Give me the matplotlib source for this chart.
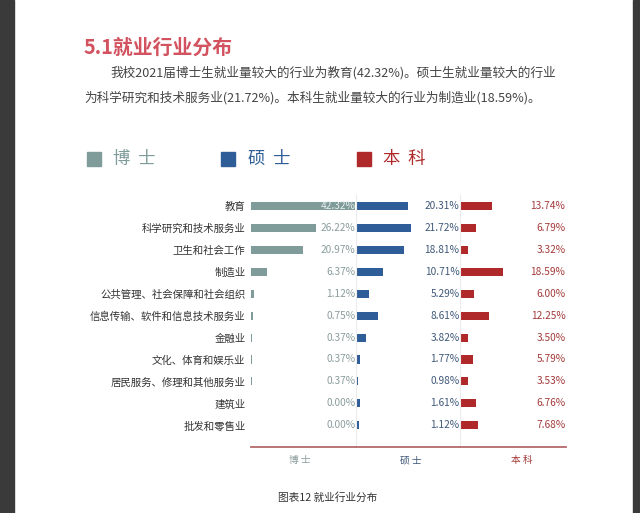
import matplotlib.pyplot as plt
from matplotlib.patches import Rectangle
import matplotlib.transforms as mtransforms

plt.rcParams['font.family'] = ['Noto Sans CJK SC', 'DejaVu Sans']

industries = ['教育', '科学研究和技术服务业', '卫生和社会工作', '制造业',
              '公共管理、社会保障和社会组织', '信息传输、软件和信息技术服务业',
              '金融业', '文化、体育和娱乐业', '居民服务、修理和其他服务业',
              '建筑业', '批发和零售业']
doctor = [42.32, 26.22, 20.97, 6.37, 1.12, 0.75, 0.37, 0.37, 0.37, 0.00, 0.00]
master = [20.31, 21.72, 18.81, 10.71, 5.29, 8.61, 3.82, 1.77, 0.98, 1.61, 1.12]
bachelor = [13.74, 6.79, 3.32, 18.59, 6.00, 12.25, 3.50, 5.79, 3.53, 6.76, 7.68]
groups = ['博士', '硕士', '本科']

W, H = 640, 513
fig = plt.figure(figsize=(6.4, 5.13), dpi=100)

def fx(px):
    return px / W

def fy(py):
    return 1 - py / H

# dark page borders from the screenshot
fig.patches.append(Rectangle((0, 0), fx(14), 1, transform=fig.transFigure,
                             color='#3a3a3a', zorder=0))
fig.patches.append(Rectangle((fx(633), 0), fx(7), 1, transform=fig.transFigure,
                             color='#3a3a3a', zorder=0))

# heading and paragraph
fig.text(fx(84), fy(47), '5.1就业行业分布', fontsize=14.3, color='#d2525f',
         fontweight='bold', va='center')
fig.text(fx(110), fy(73), '我校2021届博士生就业量较大的行业为教育(42.32%)。硕士生就业量较大的行业',
         fontsize=9.1, color='#444444', va='center')
fig.text(fx(84), fy(98), '为科学研究和技术服务业(21.72%)。本科生就业量较大的行业为制造业(18.59%)。',
         fontsize=9.1, color='#444444', va='center')

colors = ['#7f9b9a', '#2f5d97', '#b0292a']
label_colors = ['#8a9c9c', '#3f5878', '#a33a3a']

# legend
for x_sq, x_txt, name, c in zip([87, 221, 357], [113, 248, 383], groups, colors):
    fig.patches.append(Rectangle((fx(x_sq), fy(166)), fx(14), 14 / H,
                                 transform=fig.transFigure, color=c))
    fig.text(fx(x_txt), fy(159), '  '.join(name), fontsize=12.5, color=c, va='center')

# three panels
panels = [(251, 356, 42.6, doctor), (356, 460, 41.0, master), (460, 566, 45.5, bachelor)]
ypos = list(range(len(industries)))
bottom, top = 447, 195
for i, (x0, x1, xmax, vals) in enumerate(panels):
    ax = fig.add_axes([fx(x0), fy(bottom), fx(x1 - x0), (bottom - top) / H])
    ax.barh(ypos, vals, height=0.37, color=colors[i], zorder=2)
    ax.set_xlim(0, xmax)
    ax.set_ylim(10.99, -0.5)
    ax.set_xticks([])
    for s in ['top', 'right']:
        ax.spines[s].set_visible(False)
    ax.spines['bottom'].set_color('#b56a6a')
    ax.spines['bottom'].set_linewidth(1.3)
    if i == 0:
        ax.spines['left'].set_visible(False)
        ax.set_yticks(ypos)
        ax.set_yticklabels(industries, fontsize=7.5, color='#333333')
        ax.tick_params(axis='y', length=0, pad=4)
    else:
        ax.spines['left'].set_color('#ececec')
        ax.spines['left'].set_linewidth(0.8)
        ax.set_yticks([])
    trans = mtransforms.blended_transform_factory(ax.transAxes, ax.transData)
    for y, v in zip(ypos, vals):
        tc = label_colors[i]
        if v / xmax > 0.7:
            tc = '#e8eeee'
        ax.text(0.995, y, f'{v:.2f}%', transform=trans, ha='right', va='center',
                fontsize=7.3, color=tc, zorder=3,
                family=['Liberation Sans Narrow', 'Noto Sans CJK SC'])

# bottom group labels
for x, name, c in zip([300, 411, 522], groups, label_colors):
    fig.text(fx(x), fy(460), ' '.join(name), fontsize=7, color=c, ha='center', va='center')

fig.text(fx(278), fy(497), '图表12 就业行业分布', fontsize=7.7, color='#333333', va='center')

fig.savefig('out.png', dpi=100, facecolor='white')
